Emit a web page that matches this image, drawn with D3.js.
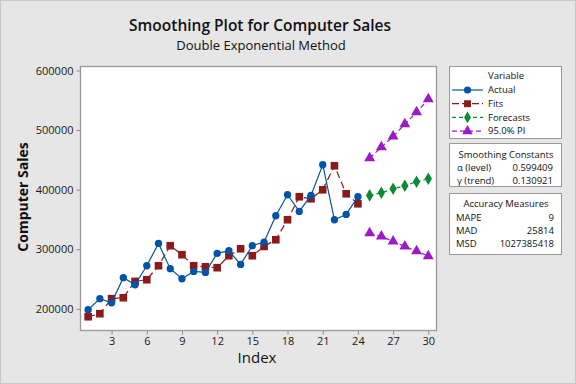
<!DOCTYPE html>
<html><head><meta charset="utf-8">
<script src="https://cdn.jsdelivr.net/npm/d3@7"></script>
<style>body{margin:0;background:#e6e6e6}svg{display:block}text{font-family:"Open Sans","Noto Sans",sans-serif}</style>
</head><body><svg id="c" width="576" height="384"></svg>
<script>
const actualIdx = d3.range(1, 25);
const actual = [198500,217000,210200,252200,240400,272300,309700,267300,250500,262800,261000,293000,297500,274500,306000,312000,356200,391400,363400,390300,441800,349500,358400,388100];
const fits = [186700,191800,217000,218600,246000,248800,272300,305900,290800,272300,270600,269000,289100,300800,289100,304700,315900,349500,388100,384700,399800,440100,393100,376300];
const fcIdx = [25,26,27,28,29,30];
const forecasts = [390300,394800,401500,406500,413300,418300];
const upperPI = [452900,471300,489300,509900,530000,551900];
const lowerPI = [327100,321500,313100,304700,296800,288400];
const xTicks = [3,6,9,12,15,18,21,24,27,30];
const yTicks = [200000,300000,400000,500000,600000];
const legendItems = ["Actual","Fits","Forecasts","95.0% PI"];
const smoothing = [["α (level)","0.599409"],["γ (trend)","0.130921"]];
const accuracy = [["MAPE","9"],["MAD","25814"],["MSD","1027385418"]];

const C = {actual:"#0054a6", fits:"#8b1a1a", fc:"#0a8a34", pi:"#9b1cc4"};
const svg = d3.select("#c");
svg.append("rect").attr("x",0.5).attr("y",0.5).attr("width",575).attr("height",383).attr("fill","#e6e6e6").attr("stroke","#c8c8c8");

const L=80.5, R=436.5, T=66.5, B=330.5;
const x = d3.scaleLinear().domain([0.35,30.7]).range([L,R]);
const y = d3.scaleLinear().domain([163600,606700]).range([B,T]);

svg.append("rect").attr("x",L).attr("y",T).attr("width",R-L).attr("height",B-T).attr("fill","#fff");

const gx = svg.append("g").attr("transform",`translate(0,${B})`)
  .call(d3.axisBottom(x).tickValues(xTicks).tickSize(4).tickPadding(3));
const gy = svg.append("g").attr("transform",`translate(${L},0)`)
  .call(d3.axisLeft(y).tickValues(yTicks).tickSize(4).tickPadding(3).tickFormat(d3.format("d")));
[gx,gy].forEach(g=>{
  g.select(".domain").remove();
  g.selectAll("line").attr("stroke","#8a8a8a");
  g.selectAll("text").attr("font-size",11).attr("fill","#1a1a1a").style("font-family","'Open Sans','Noto Sans',sans-serif");
});
svg.append("rect").attr("x",L).attr("y",T).attr("width",R-L).attr("height",B-T).attr("fill","none").attr("stroke","#999").attr("stroke-width",1.3);

const line = (idx)=>d3.line().x((d,i)=>x(idx[i])).y(d=>y(d));
function series(vals, idx, color, dash, sym, size){
  svg.append("path").datum(vals).attr("d",line(idx)).attr("fill","none").attr("stroke",color).attr("stroke-width",1.2).attr("stroke-dasharray",dash);
  svg.append("g").selectAll("path").data(vals).join("path")
    .attr("transform",(d,i)=>`translate(${x(idx[i])},${y(d)})`)
    .attr("d",d3.symbol().type(sym).size(size)).attr("fill",color);
}
series(fits, actualIdx, C.fits, "7,4", d3.symbolSquare, 58);
series(actual, actualIdx, C.actual, null, d3.symbolCircle, 42);
series(forecasts, fcIdx, C.fc, "4,3", d3.symbolDiamond, 46);
series(upperPI, fcIdx, C.pi, "5,3", d3.symbolTriangle, 52);
series(lowerPI, fcIdx, C.pi, "5,3", d3.symbolTriangle, 52);

svg.append("text").attr("x",260).attr("y",31).attr("text-anchor","middle").attr("font-size",15.5).attr("font-weight",600).attr("fill","#111").text("Smoothing Plot for Computer Sales");
svg.append("text").attr("x",261).attr("y",50).attr("text-anchor","middle").attr("font-size",13).attr("fill","#111").text("Double Exponential Method");
svg.append("text").attr("x",257).attr("y",363).attr("text-anchor","middle").attr("font-size",15).attr("font-weight",500).attr("fill","#111").text("Index");
svg.append("text").attr("transform","translate(28,197) rotate(-90)").attr("text-anchor","middle").attr("font-size",14).attr("font-weight",700).attr("fill","#111").text("Computer Sales");

const bx=449.5, bw=112;
function box(y0,h){svg.append("rect").attr("x",bx).attr("y",y0).attr("width",bw).attr("height",h).attr("fill","#fff").attr("stroke","#999");}
box(66.5,72); box(143.5,43); box(193.5,61);
const tf = (t,xx,yy,anchor)=>svg.append("text").attr("x",xx).attr("y",yy).attr("text-anchor",anchor||"start").attr("font-size",9.5).attr("fill","#111").text(t);
tf("Variable",506,79,"middle");
const legStyle = [[C.actual,null,d3.symbolCircle,40],[C.fits,"7,3",d3.symbolSquare,48],[C.fc,"4,3",d3.symbolDiamond,40],[C.pi,"5,3",d3.symbolTriangle,48]];
legendItems.forEach((t,i)=>{
  const yy = 90 + i*13.7;
  const s = legStyle[i];
  svg.append("line").attr("x1",452).attr("x2",483).attr("y1",yy).attr("y2",yy).attr("stroke",s[0]).attr("stroke-width",1.2).attr("stroke-dasharray",s[1]);
  svg.append("path").attr("transform",`translate(467.5,${yy})`).attr("d",d3.symbol().type(s[2]).size(s[3])).attr("fill",s[0]);
  tf(t,488,yy+3.3);
});
tf("Smoothing Constants",506,157.5,"middle");
smoothing.forEach((r,i)=>{ tf(r[0],457,170.5+i*13.5); tf(r[1],553,170.5+i*13.5,"end"); });
tf("Accuracy Measures",506,207,"middle");
accuracy.forEach((r,i)=>{ tf(r[0],456,221+i*13); tf(r[1],554,221+i*13,"end"); });
</script></body></html>
